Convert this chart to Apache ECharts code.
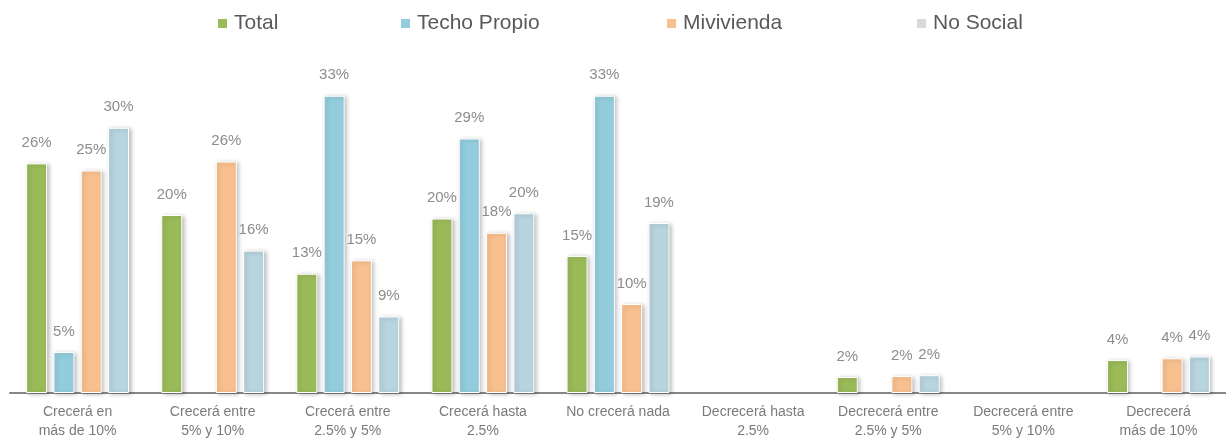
<!DOCTYPE html>
<html>
<head>
<meta charset="utf-8">
<script src="https://cdn.jsdelivr.net/npm/echarts@6/dist/echarts.min.js"></script>
<style>
  html, body { margin: 0; padding: 0; background: #ffffff; }
  #chart { width: 1226px; height: 441px; }
</style>
</head>
<body>
<div id="chart"></div>
<script>
// Expected growth of housing sales, share of respondents per segment (%)
const categories = [
  'Crecerá en\nmás de 10%',
  'Crecerá entre\n5% y 10%',
  'Crecerá entre\n2.5% y 5%',
  'Crecerá hasta\n2.5%',
  'No crecerá nada',
  'Decrecerá hasta\n2.5%',
  'Decrecerá entre\n2.5% y 5%',
  'Decrecerá entre\n5% y 10%',
  'Decrecerá\nmás de 10%'
];
const seriesNames = ['Total', 'Techo Propio', 'Mivivienda', 'No Social'];
const total       = [25.8, 20.0, 13.4, 19.6, 15.4, null, 1.8, null, 3.7];
const techoPropio = [4.6, null, 33.4, 28.6, 33.4, null, null, null, null];
const mivivienda  = [25.0, 26.0, 14.9, 18.0, 10.0, null, 1.9, null, 3.9];
const noSocial    = [29.8, 16.0, 8.6, 20.2, 19.1, null, 2.0, null, 4.1];

const barColors    = ['#9bbb59', '#93cddd', '#f9c08f', '#b7d4df'];
const legendColors = ['#9bbb59', '#93cddd', '#f9c08f', '#d9d9d9'];
const legendLeft   = [216, 399, 665, 915];

const FONT = '"Liberation Sans", Arial, sans-serif';

function makeSeries(name, data, color) {
  return {
    name: name,
    type: 'bar',
    data: data,
    barWidth: 21,
    barGap: '30%',
    itemStyle: {
      color: color,
      borderColor: '#ffffff',
      borderWidth: 1,
      shadowColor: 'rgba(0,0,0,0.25)',
      shadowBlur: 4,
      shadowOffsetX: 2,
      shadowOffsetY: 1
    },
    label: {
      show: true,
      position: 'top',
      distance: 13,
      color: '#8c8c8c',
      fontFamily: FONT,
      fontSize: 15,
      formatter: p => Math.round(p.value) + '%'
    },
    emphasis: { disabled: true }
  };
}

const chart = echarts.init(document.getElementById('chart'), null, { renderer: 'canvas' });
chart.setOption({
  animation: false,
  backgroundColor: '#ffffff',
  legend: seriesNames.map((n, i) => ({
    data: [{ name: n, itemStyle: { color: legendColors[i] } }],
    left: legendLeft[i],
    top: 13,
    padding: 0,
    icon: 'rect',
    itemWidth: 11,
    itemHeight: 11,
    itemGap: 0,
    selectedMode: false,
    textStyle: { color: '#595959', fontFamily: FONT, fontSize: 21, padding: [0, 0, 0, 1] }
  })),
  grid: { left: 10, width: 1226, top: 37, bottom: 47, containLabel: false },
  xAxis: {
    type: 'category',
    data: categories,
    axisLine: { show: true, lineStyle: { color: '#878787', width: 2 } },
    axisTick: { show: false },
    axisLabel: {
      interval: 0,
      margin: 10,
      color: '#7a7a7a',
      fontFamily: FONT,
      fontSize: 14,
      lineHeight: 19
    }
  },
  yAxis: {
    type: 'value',
    min: 0,
    max: 40,
    show: false,
    splitLine: { show: false }
  },
  series: [
    makeSeries(seriesNames[0], total, barColors[0]),
    makeSeries(seriesNames[1], techoPropio, barColors[1]),
    makeSeries(seriesNames[2], mivivienda, barColors[2]),
    makeSeries(seriesNames[3], noSocial, barColors[3])
  ]
});
</script>
</body>
</html>
